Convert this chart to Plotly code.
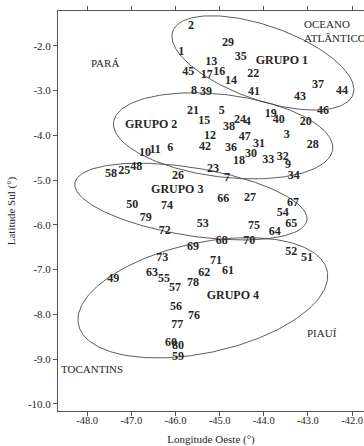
import numpy as np
import plotly.graph_objects as go

# ---- data ----
point_ids = list(range(1, 81))
lon = [-45.87, -45.65, -43.48, -44.36, -44.95, -46.12, -44.83, -45.58, -43.45, -46.69,
       -46.46, -45.22, -45.19, -44.74, -45.35, -45.01, -45.29, -44.56, -43.84, -43.05,
       -45.60, -44.24, -45.15, -44.54, -47.16, -45.94, -44.31, -42.89, -44.81, -44.29,
       -44.11, -43.57, -43.90, -43.32, -44.52, -44.74, -42.77, -44.79, -45.31, -43.66,
       -44.22, -45.33, -43.18, -42.23, -45.71, -42.66, -44.43, -46.89, -47.41, -46.98,
       -43.02, -43.38, -45.38, -43.57, -46.26, -45.99, -46.01, -47.46, -45.94, -46.10,
       -44.81, -45.35, -46.53, -43.75, -43.38, -44.92, -43.34, -44.95, -45.60, -44.33,
       -45.08, -46.24, -46.30, -46.19, -44.22, -45.58, -45.96, -45.60, -46.67, -45.94]
lat = [-2.13, -1.55, -3.99, -3.70, -3.45, -4.28, -4.95, -3.00, -4.66, -4.39,
       -4.32, -4.01, -2.36, -2.78, -3.67, -2.58, -2.65, -4.57, -3.52, -3.70,
       -3.45, -2.63, -4.75, -3.65, -4.79, -4.90, -5.39, -4.21, -1.93, -4.41,
       -4.19, -4.48, -4.54, -4.90, -2.25, -4.28, -2.87, -3.81, -3.03, -3.65,
       -3.03, -4.25, -3.14, -3.00, -2.58, -3.45, -4.03, -4.70, -7.20, -5.55,
       -6.73, -6.60, -5.97, -5.73, -7.22, -7.83, -7.42, -4.86, -8.96, -8.65,
       -7.02, -7.07, -7.07, -6.15, -5.97, -5.42, -5.50, -6.35, -6.49, -6.35,
       -6.80, -6.13, -6.75, -5.57, -6.02, -8.03, -8.23, -7.29, -5.84, -8.70]

group_names = ["GRUPO 1", "GRUPO 2", "GRUPO 3", "GRUPO 4"]
group_lon = [-43.59, -46.55, -45.96, -44.70]
group_lat = [-2.33, -3.76, -5.21, -7.60]

# ellipse: centre lon, centre lat, semi-major (deg), semi-minor (deg), angle (deg)
ell_cx = [-44.02, -44.92, -45.65, -45.38]
ell_cy = [-2.38, -4.01, -5.48, -7.63]
ell_a = [2.16, 2.50, 2.66, 2.88]
ell_b = [0.83, 0.92, 0.76, 1.23]
ell_ang = [-19, -7, -9, 12]

region_names = ["PARÁ", "OCEANO<br>ATLÂNTICO", "PIAUÍ", "TOCANTINS"]
region_lon = [-47.59, -43.14, -42.68, -47.89]
region_lat = [-2.38, -1.66, -8.41, -9.23]
region_anchor = ["center", "left", "center", "center"]

x_ticks = [-48.0, -47.0, -46.0, -45.0, -44.0, -43.0, -42.0]
y_ticks = [-2.0, -3.0, -4.0, -5.0, -6.0, -7.0, -8.0, -9.0, -10.0]

FONT = "Liberation Serif"
INK = "#262626"
LINE = "#555555"

fig = go.Figure()

# ellipses
t = np.linspace(0, 2 * np.pi, 240)
for cx, cy, a, b, ang in zip(ell_cx, ell_cy, ell_a, ell_b, ell_ang):
    th = np.deg2rad(ang)
    ex = cx + a * np.cos(t) * np.cos(th) - b * np.sin(t) * np.sin(th)
    ey = cy + a * np.cos(t) * np.sin(th) + b * np.sin(t) * np.cos(th)
    fig.add_trace(go.Scatter(x=ex, y=ey, mode="lines",
                             line=dict(color="#4a4a4a", width=0.9),
                             hoverinfo="skip", showlegend=False))

# numbered points
fig.add_trace(go.Scatter(x=lon, y=lat, mode="text",
                         text=["<b>%d</b>" % i for i in point_ids],
                         textfont=dict(family=FONT, size=12, color=INK),
                         showlegend=False))

# group labels
fig.add_trace(go.Scatter(x=group_lon, y=group_lat, mode="text",
                         text=["<b>%s</b>" % g for g in group_names],
                         textfont=dict(family=FONT, size=12, color=INK),
                         showlegend=False))

for name, x, y, anc in zip(region_names, region_lon, region_lat, region_anchor):
    fig.add_annotation(x=x, y=y, text=name, showarrow=False, xanchor=anc,
                       align="left", font=dict(family=FONT, size=11, color=INK))

axis_common = dict(showgrid=False, zeroline=False, showline=True, linecolor=LINE,
                   linewidth=1, mirror="ticks", ticks="outside", ticklen=4,
                   tickcolor=LINE, ticklabeloverflow="allow")

fig.update_xaxes(range=[-48.66, -41.73], tickvals=x_ticks,
                 ticktext=["%.1f" % v for v in x_ticks], ticklabelstandoff=-5,
                 tickfont=dict(family=FONT, size=10.5, color=INK),
                 title=dict(text="Longitude Oeste (°)",
                            font=dict(family=FONT, size=11, color=INK), standoff=10),
                 **axis_common)
fig.update_yaxes(range=[-10.16, -1.22], tickvals=y_ticks,
                 ticktext=["%.1f" % v for v in y_ticks],
                 tickfont=dict(family=FONT, size=11, color=INK),
                 title=dict(text="Latitude Sul (°)",
                            font=dict(family=FONT, size=11, color=INK), standoff=10),
                 **axis_common)

fig.update_layout(width=364, height=446,
                  margin=dict(l=58, r=0, t=11, b=35, autoexpand=False),
                  paper_bgcolor="white", plot_bgcolor="white")

# no toolbar; remove the default page margin so the figure fills the window exactly
fig.write_html("out.html",
               config={"displayModeBar": False},
               post_script="document.body.style.margin='0';"
                           "document.body.style.overflow='hidden';")
